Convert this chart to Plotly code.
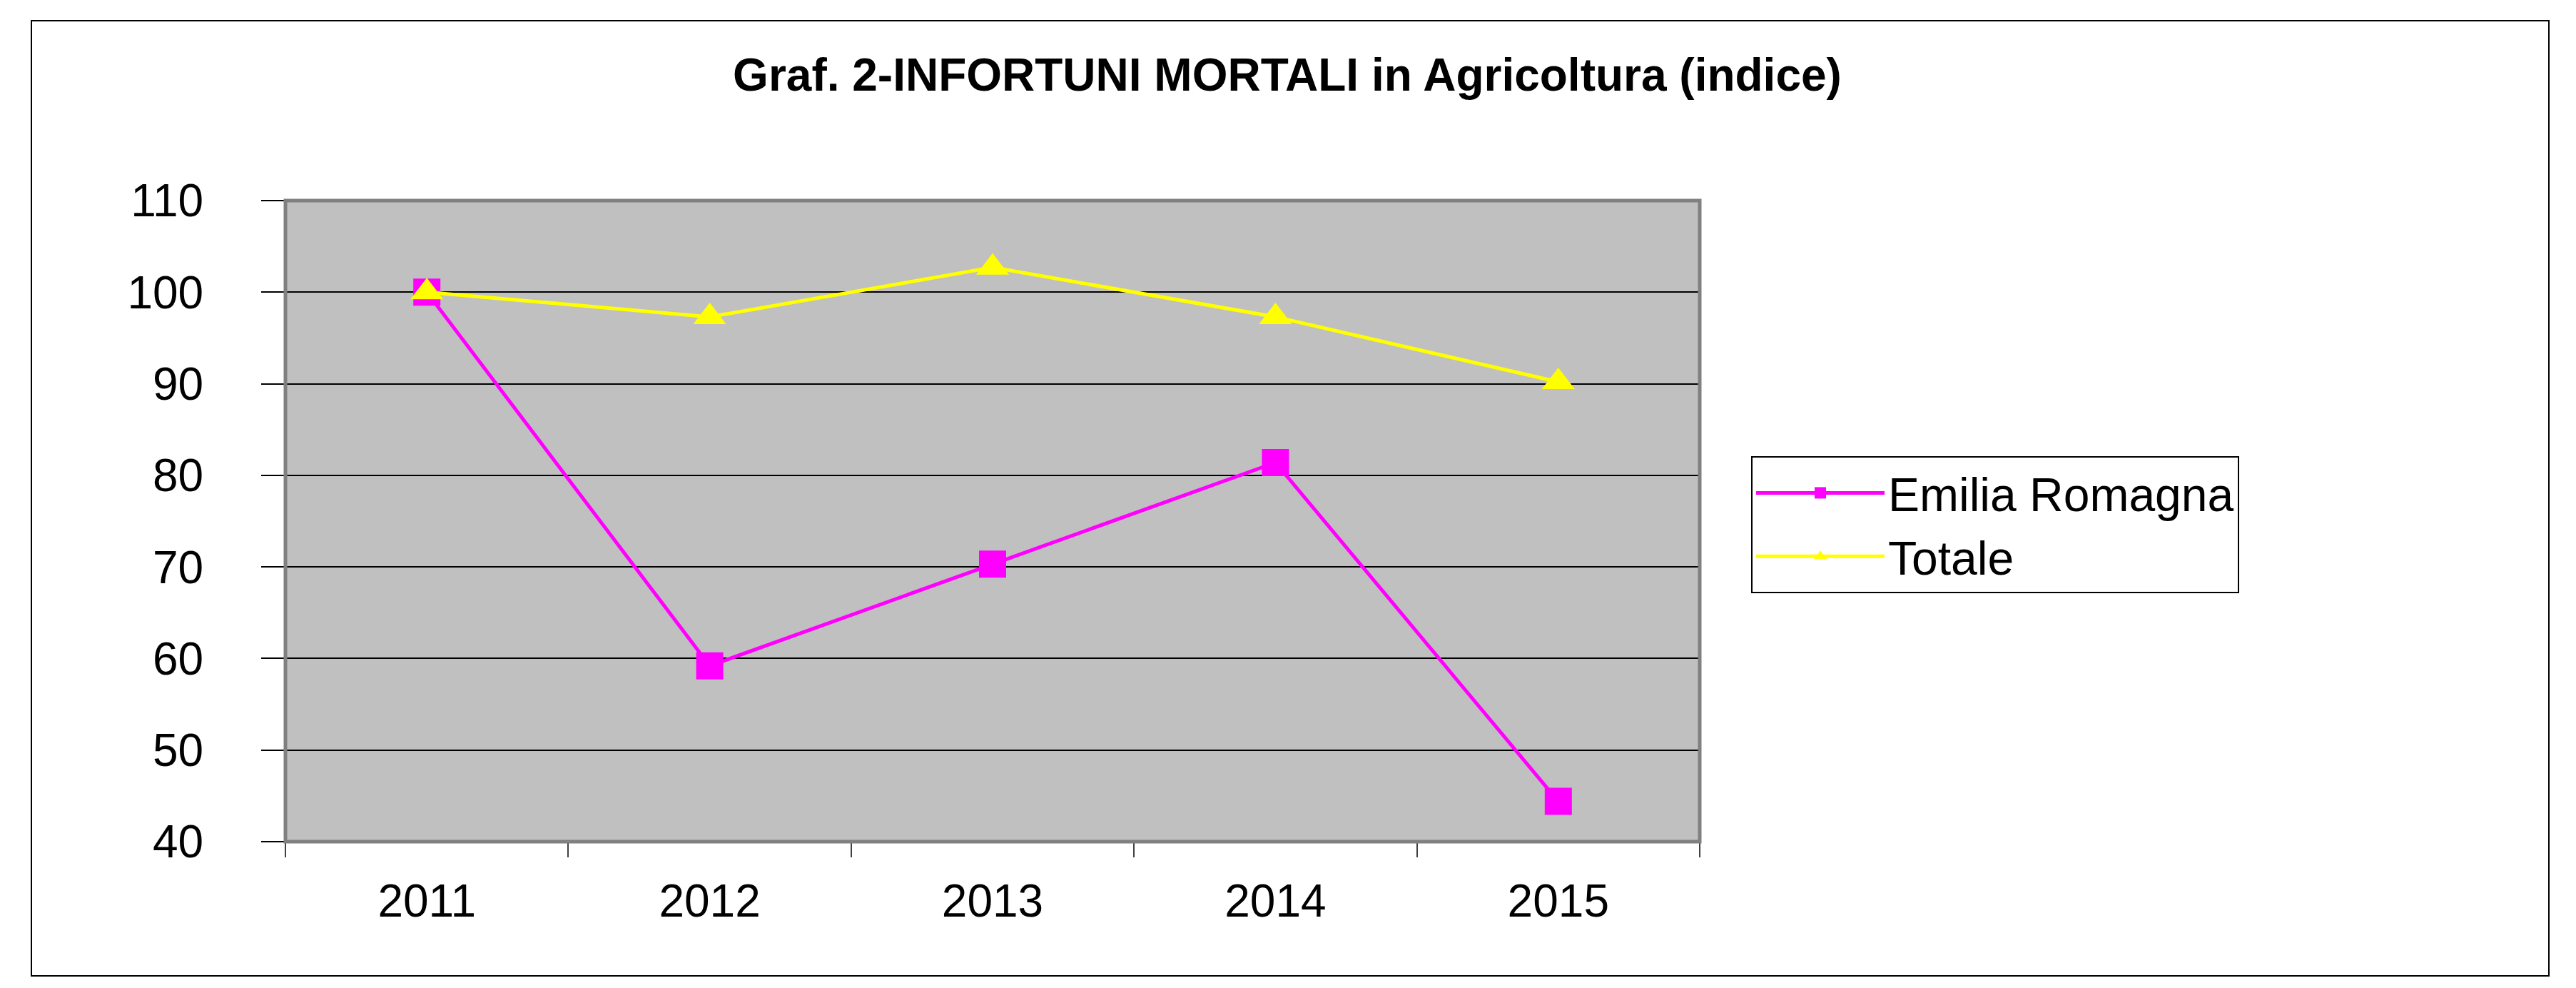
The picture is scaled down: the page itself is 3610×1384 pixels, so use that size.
import plotly.graph_objects as go

# values (index, 2011 = 100)
years = ["2011", "2012", "2013", "2014", "2015"]
emilia_romagna = [100, 59.2, 70.3, 81.4, 44.4]
totale = [100, 97.3, 102.7, 97.3, 90.2]
y_ticks = [40, 50, 60, 70, 80, 90, 100, 110]

W, H = 3610, 1384
# plot area in pixels
L, R, T, B = 392, 2374, 273, 1171
PW, PH = R - L, B - T


def px_x(px):
    return (px - L) / PW


def px_y(py):
    return (B - py) / PH


FONT = "Liberation Sans, Arial, sans-serif"

fig = go.Figure()

fig.add_trace(go.Scatter(
    x=years, y=emilia_romagna,
    mode="lines+markers",
    name="Emilia Romagna",
    line=dict(color="#FF00FF", width=5),
    marker=dict(symbol="square", size=38, color="#FF00FF"),
))

fig.add_trace(go.Scatter(
    x=years, y=totale,
    mode="lines+markers",
    name="Totale",
    line=dict(color="#FFFF00", width=5),
    marker=dict(symbol="triangle-up", size=40, color="#FFFF00"),
))

fig.update_layout(
    width=W, height=H,
    margin=dict(l=L, r=W - R, t=T, b=H - B),
    paper_bgcolor="white",
    plot_bgcolor="#C0C0C0",
    font=dict(family=FONT, color="black", size=63),
    title=dict(
        text="<b>Graf. 2-INFORTUNI MORTALI in Agricoltura (indice)</b>",
        x=px_x(1796), xref="paper", xanchor="center",
        y=1 - 97 / H, yanchor="middle",
        font=dict(size=64, family=FONT),
    ),
    legend=dict(
        x=px_x(2446), y=px_y(631), xanchor="left", yanchor="top",
        bgcolor="white", bordercolor="black", borderwidth=2,
        font=dict(size=66, family=FONT),
        itemwidth=180,
        entrywidth=860,
        tracegroupgap=0,
    ),
    showlegend=True,
)

fig.update_xaxes(
    type="category",
    range=[-0.5, 4.5],
    showgrid=False, zeroline=False,
    ticks="outside", ticklen=21, tickwidth=2, tickcolor="#404040",
    tickson="boundaries",
    ticklabelstandoff=40,
    tickfont=dict(size=64),
)

fig.update_yaxes(
    range=[40, 110],
    tickvals=y_ticks,
    showgrid=True, gridcolor="black", gridwidth=1.5,
    zeroline=False,
    ticks="outside", ticklen=33, tickwidth=2, tickcolor="black",
    ticklabelstandoff=68,
    tickfont=dict(size=64),
)

# plot area border (gray frame)
fig.add_shape(type="rect", xref="paper", yref="paper",
              x0=0, y0=0, x1=1, y1=1,
              line=dict(color="#808080", width=5), layer="above")

# outer chart frame
fig.add_shape(type="rect", xref="paper", yref="paper",
              x0=px_x(36), y0=px_y(1359), x1=px_x(3564), y1=px_y(21),
              line=dict(color="black", width=2))

fig.write_html("out.html")
